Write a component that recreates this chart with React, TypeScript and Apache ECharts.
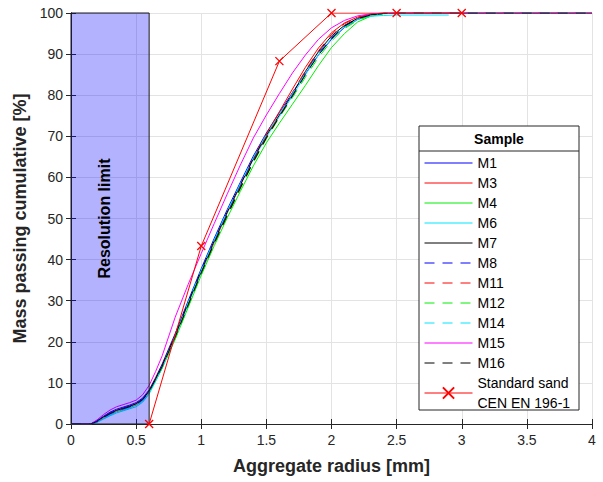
import React, { useEffect, useRef } from "react";
import * as echarts from "echarts";

// Aggregate radius grid [mm] shared by the measured samples
const radius = [0, 0.15, 0.2, 0.25, 0.3, 0.35, 0.4, 0.45, 0.5, 0.55, 0.6, 0.65, 0.7, 0.8, 0.9, 1.0, 1.1, 1.2, 1.3, 1.4, 1.5, 1.6, 1.7, 1.8, 1.9, 2.0, 2.1, 2.2, 2.3, 2.4, 2.5, 2.9, 4];

// Mass passing cumulative [%]
const m1 = [0, 0, 0.8, 1.9, 2.9, 3.6, 4.1, 4.6, 5.2, 6.3, 8.3, 11.3, 14.6, 22.0, 30.0, 37.8, 45.2, 52.2, 58.8, 65.2, 70.8, 75.8, 80.6, 85.2, 89.8, 93.6, 96.5, 98.4, 99.5, 99.9, 100, 100, 100];
const m3 = [0, 0, 0.7, 1.8, 2.7, 3.4, 3.9, 4.4, 5.0, 6.1, 8.1, 11.1, 14.3, 21.6, 29.4, 37.0, 44.2, 51.4, 58.0, 64.8, 70.6, 76.0, 81.5, 86.8, 91.5, 95.2, 97.6, 99.0, 99.7, 100, 100, 100, 100];
const m4 = [0, 0, 0.5, 1.4, 2.3, 3.0, 3.5, 4.0, 4.6, 5.6, 7.6, 10.5, 13.6, 20.6, 28.4, 36.2, 43.4, 50.2, 56.6, 62.8, 68.4, 73.2, 77.8, 82.4, 87.2, 91.6, 95.0, 97.8, 99.2, 99.8, 100, 100, 100];
const m6 = [0, 0, 0.4, 1.2, 2.0, 2.7, 3.2, 3.7, 4.2, 5.3, 7.3, 10.4, 13.6, 21.0, 29.2, 37.0, 44.5, 51.5, 58.2, 64.4, 69.8, 74.8, 79.8, 85.0, 89.8, 93.8, 96.6, 98.4, 99.2, 99.4, 99.5, 99.5, null];
const m7 = [0, 0, 0.7, 1.7, 2.6, 3.3, 3.8, 4.3, 4.9, 6.0, 8.0, 11.0, 14.2, 21.5, 29.5, 37.3, 44.6, 51.6, 58.2, 64.6, 70.2, 75.2, 80.3, 85.8, 90.6, 94.4, 97.0, 98.7, 99.6, 99.9, 100, 100, 100];
const m8 = [0, 0, 0.7, 1.7, 2.6, 3.3, 3.8, 4.3, 4.9, 6.0, 8.0, 11.0, 14.1, 21.3, 29.2, 37.0, 44.3, 51.2, 57.8, 64.2, 69.8, 75.0, 80.2, 85.4, 90.2, 94.0, 96.8, 98.6, 99.5, 99.9, 100, 100, 100];
const m11 = [0, 0, 0.6, 1.6, 2.5, 3.2, 3.7, 4.2, 4.8, 5.9, 7.9, 10.8, 14.0, 21.2, 29.0, 36.8, 44.0, 51.0, 57.6, 64.0, 69.8, 75.2, 80.6, 86.0, 90.8, 94.8, 97.4, 98.9, 99.7, 100, 100, 100, 100];
const m12 = [0, 0, 0.5, 1.5, 2.4, 3.1, 3.6, 4.1, 4.7, 5.8, 7.7, 10.6, 13.7, 20.8, 28.6, 36.4, 43.6, 50.6, 57.2, 63.6, 69.4, 74.6, 79.4, 84.4, 89.2, 93.2, 96.2, 98.2, 99.4, 99.9, 100, 100, 100];
const m14 = [0, 0, 0.5, 1.4, 2.2, 2.9, 3.4, 3.9, 4.5, 5.6, 7.6, 10.7, 14.0, 21.4, 29.6, 37.4, 44.8, 51.8, 58.4, 64.8, 70.4, 75.4, 80.4, 85.4, 90.0, 93.8, 96.6, 98.5, 99.5, 99.9, 100, 100, 100];
const m15 = [0, 0, 1.0, 2.3, 3.4, 4.2, 4.7, 5.2, 5.8, 7.1, 9.4, 12.8, 16.6, 26.0, 34.0, 41.5, 48.8, 56.0, 63.0, 69.6, 75.2, 80.4, 85.4, 89.8, 93.6, 96.4, 98.2, 99.3, 99.8, 100, 100, 100, 100];
const m16 = [0, 0, 0.6, 1.6, 2.5, 3.2, 3.7, 4.2, 4.8, 5.9, 7.9, 10.9, 14.0, 21.2, 29.0, 36.8, 44.0, 50.8, 57.4, 63.8, 69.6, 74.8, 79.8, 85.0, 89.8, 93.8, 96.8, 98.6, 99.5, 99.9, 100, 100, 100];

// Standard sand CEN EN 196-1
const sandRadius = [0.6, 1.0, 1.6, 2.0, 2.5, 3.0];
const sandPassing = [0, 43.3, 88.3, 100, 100, 100];

// Resolution limit band
const resolutionLimit = [0, 0.6];

const xTicks = { min: 0, max: 4, interval: 0.5 };
const yTicks = { min: 0, max: 100, interval: 10 };

const samples: { name: string; values: (number | null)[]; color: string; dashed: boolean }[] = [
  { name: "M1", values: m1, color: "#0000ff", dashed: false },
  { name: "M3", values: m3, color: "#ff0000", dashed: false },
  { name: "M4", values: m4, color: "#00ee00", dashed: false },
  { name: "M6", values: m6, color: "#00e5ff", dashed: false },
  { name: "M7", values: m7, color: "#000000", dashed: false },
  { name: "M8", values: m8, color: "#0000ff", dashed: true },
  { name: "M11", values: m11, color: "#ff0000", dashed: true },
  { name: "M12", values: m12, color: "#00ee00", dashed: true },
  { name: "M14", values: m14, color: "#00e5ff", dashed: true },
  { name: "M15", values: m15, color: "#ff00ff", dashed: false },
  { name: "M16", values: m16, color: "#000000", dashed: true },
];

const SAND_NAME = "Standard sand\nCEN EN 196-1";
const FONT = "'Liberation Sans', Arial, Helvetica, sans-serif";
const AXIS_COLOR = "#262626";

export default function App() {
  const ref = useRef<HTMLDivElement>(null);

  useEffect(() => {
    if (!ref.current) return;
    const chart = echarts.init(ref.current, undefined, { renderer: "svg" });

    const sampleSeries = samples.map((s) => ({
      name: s.name,
      type: "line",
      data: radius
        .map((r, i) => [r, s.values[i]])
        .filter((p) => p[1] !== null && p[1] !== undefined),
      symbol: "none",
      showSymbol: false,
      z: 2,
      lineStyle: { color: s.color, width: 1, type: s.dashed ? [10, 8] : "solid" },
      itemStyle: { color: s.color },
      emphasis: { disabled: true },
    }));

    const sandSeries = {
      name: SAND_NAME,
      type: "line",
      data: sandRadius.map((r, i) => [r, sandPassing[i]]),
      symbol: "path://M0,0L10,10M10,0L0,10",
      symbolSize: 8,
      showSymbol: true,
      z: 4,
      lineStyle: { color: "#ff0000", width: 1 },
      itemStyle: { color: "#ff0000", borderColor: "#ff0000", borderWidth: 1.3 },
      emphasis: { disabled: true },
    };

    const bandSeries = {
      name: "band",
      type: "line",
      data: [],
      z: 3,
      markArea: {
        silent: true,
        z: 3,
        itemStyle: { color: "rgba(0,0,255,0.3)", borderColor: "#1a1a1a", borderWidth: 1 },
        label: {
          show: true,
          position: "inside",
          rotate: 90,
          color: "#000",
          fontFamily: FONT,
          fontWeight: "bold",
          fontSize: 16,
          offset: [0, -6],
        },
        data: [[
          { xAxis: resolutionLimit[0], yAxis: yTicks.min, name: "Resolution limit" },
          { xAxis: resolutionLimit[1], yAxis: yTicks.max },
        ]],
      },
    };

    const baseAxisLine = { show: true, lineStyle: { color: AXIS_COLOR, width: 1 } };
    const baseTick = { show: true, inside: true, length: 5, lineStyle: { color: AXIS_COLOR } };

    chart.setOption({
      animation: false,
      textStyle: { fontFamily: FONT },
      grid: { left: 71, right: 11, top: 13, bottom: 58, containLabel: false },
      xAxis: [
        {
          type: "value",
          position: "bottom",
          ...xTicks,
          axisLine: baseAxisLine,
          axisTick: baseTick,
          axisLabel: { color: AXIS_COLOR, fontSize: 14, margin: 9, fontFamily: FONT },
          splitLine: { show: true, lineStyle: { color: "#e3e3e3", width: 1 } },
          name: "Aggregate radius [mm]",
          nameLocation: "middle",
          nameGap: 33,
          nameTextStyle: { color: AXIS_COLOR, fontSize: 18, fontWeight: "bold", fontFamily: FONT },
        },
        {
          type: "value",
          position: "top",
          ...xTicks,
          axisLine: baseAxisLine,
          axisTick: baseTick,
          axisLabel: { show: false },
          splitLine: { show: false },
        },
      ],
      yAxis: [
        {
          type: "value",
          position: "left",
          ...yTicks,
          axisLine: baseAxisLine,
          axisTick: baseTick,
          axisLabel: { color: AXIS_COLOR, fontSize: 14, margin: 8, fontFamily: FONT },
          splitLine: { show: true, lineStyle: { color: "#e3e3e3", width: 1 } },
          name: "Mass passing cumulative [%]",
          nameLocation: "middle",
          nameGap: 34,
          nameTextStyle: { color: AXIS_COLOR, fontSize: 18, fontWeight: "bold", fontFamily: FONT },
        },
        {
          type: "value",
          position: "right",
          ...yTicks,
          axisLine: baseAxisLine,
          axisTick: baseTick,
          axisLabel: { show: false },
          splitLine: { show: false },
        },
      ],
      legend: {
        data: [
          ...samples.map((s) => ({ name: s.name, itemStyle: { opacity: 0 } })),
          { name: SAND_NAME },
        ],
        orient: "vertical",
        left: 424,
        top: 153,
        padding: 0,
        itemGap: 0,
        itemWidth: 48,
        itemHeight: 14,
        selectedMode: false,
        z: 10,
        lineStyle: { width: 1 },
        textStyle: { color: "#000", fontSize: 14, lineHeight: 20, fontFamily: FONT },
      },
      graphic: [
        {
          type: "rect",
          z: 8,
          shape: { x: 419, y: 126, width: 160, height: 284 },
          style: { fill: "#fff", stroke: AXIS_COLOR, lineWidth: 1 },
          silent: true,
        },
        {
          type: "line",
          z: 9,
          shape: { x1: 419, y1: 151, x2: 579, y2: 151 },
          style: { stroke: AXIS_COLOR, lineWidth: 1 },
          silent: true,
        },
        {
          type: "text",
          z: 9,
          x: 499,
          y: 139,
          style: {
            text: "Sample",
            fill: "#000",
            font: `bold 14px ${FONT}`,
            textAlign: "center",
            textVerticalAlign: "middle",
          },
          silent: true,
        },
      ],
      series: [...sampleSeries, sandSeries, bandSeries],
    });

    return () => chart.dispose();
  }, []);

  return (
    <div
      ref={ref}
      style={{ position: "absolute", left: 0, top: 0, width: 603, height: 482 }}
    />
  );
}
